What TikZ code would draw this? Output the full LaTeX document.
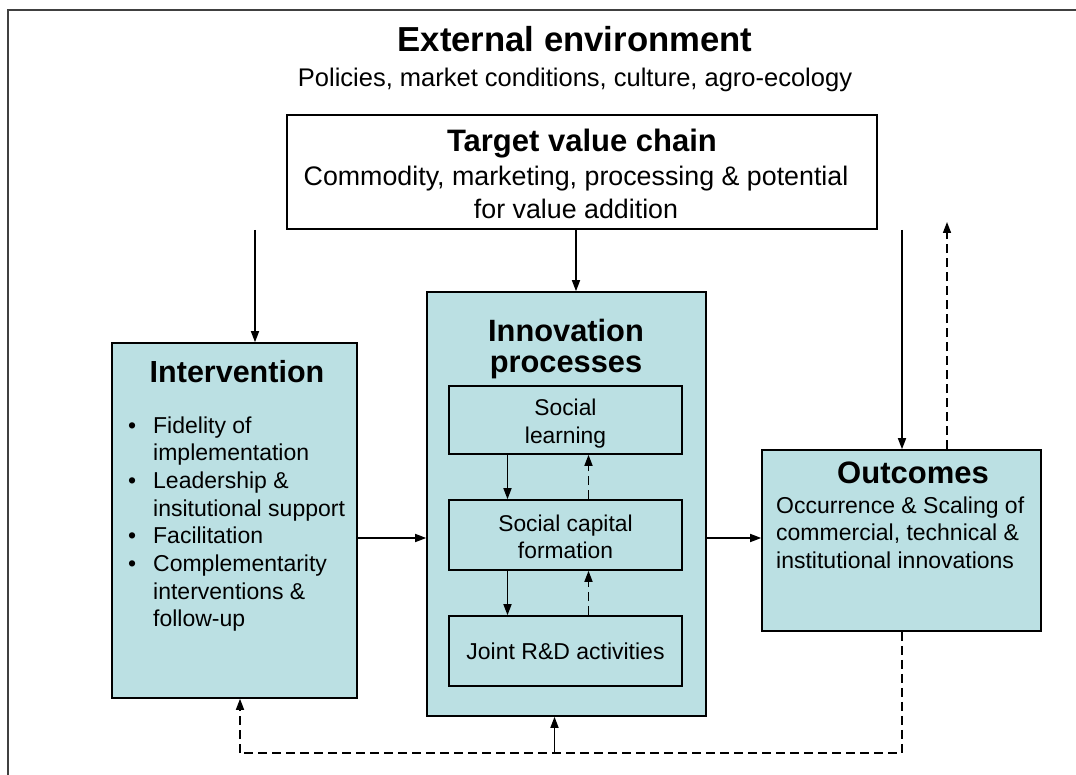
\documentclass[tikz,border=0pt]{standalone}
\usepackage{fontspec}
\setmainfont{Liberation Sans}
\usetikzlibrary{arrows.meta}
\definecolor{boxfill}{RGB}{187,224,227}
\newcommand{\fsz}[2]{\fontsize{#1}{#2}\selectfont}
\tikzset{
  box/.style={draw=black, line width=1.6pt, fill=boxfill, inner sep=0pt},
  wbox/.style={box, fill=white},
  txt/.style={inner sep=0pt, anchor=base},
  arr/.style={line width=1.6pt, -{Triangle[length=11pt,width=8pt]}},
  darr/.style={arr, dash pattern=on 9pt off 5pt},
  dline/.style={line width=2pt, dash pattern=on 9pt off 5pt},
}
\begin{document}
\begin{tikzpicture}[x=1pt,y=1pt,yscale=-1,xscale=1]
	\useasboundingbox (0,0) rectangle (1076,775);
	% outer frame
	\draw [line width=1.6pt, draw=black!75] (8,790) -- (8,10) -- (1090,10) ;
	\node [txt, font=\bfseries\fsz{34.7}{40}] (ext) at (575,52) {External environment};
	\node [txt, font=\fsz{25.5}{30}] (extsub) at (575,87) {Policies, market conditions, culture, agro-ecology};
	% boxes
	\node [wbox, minimum width=590, minimum height=114] (tvc) at (582,172) {};
	\node [box, minimum width=245, minimum height=355] (intv) at (234.5,520.5) {};
	\node [box, minimum width=279, minimum height=424] (inno) at (566.5,504) {};
	\node [box, minimum width=233, minimum height=68] (soc) at (565.5,420) {};
	\node [box, minimum width=233, minimum height=70] (cap) at (565.5,535) {};
	\node [box, minimum width=233, minimum height=70] (rd) at (565.5,651) {};
	\node [box, minimum width=279, minimum height=181] (outc) at (901.5,540.5) {};
	% texts
	\node [txt, font=\bfseries\fsz{31}{34}] (tvct) at (582,152) {Target value chain};
	\node [txt, font=\fsz{26.8}{33}] (tvcb) at (576,186) {\begin{tabular}[t]{@{}c@{}}Commodity, marketing, processing \& potential\\ for value addition\end{tabular}};
	\node [txt, font=\bfseries\fsz{30.5}{34}] (intvt) at (237,383) {Intervention};
	\node [txt, anchor=base west, font=\fsz{23}{27.7}] (intvb) at (128,433) {\begin{tabular}[t]{@{}p{25pt}@{}l@{}}
		\textbullet & Fidelity of\\ & implementation\\
		\textbullet & Leadership \&\\ & insitutional support\\
		\textbullet & Facilitation\\
		\textbullet & Complementarity\\ & interventions \&\\ & follow-up\end{tabular}};
	\node [txt, font=\bfseries\fsz{30.8}{31}] (innot) at (566,342) {\begin{tabular}[t]{@{}c@{}}Innovation\\ processes\end{tabular}};
	\node [txt, font=\fsz{22.8}{28}] (soct) at (565.5,415) {\begin{tabular}[t]{@{}c@{}}Social\\ learning\end{tabular}};
	\node [txt, font=\fsz{22.8}{27.5}] (capt) at (565.5,531) {\begin{tabular}[t]{@{}c@{}}Social capital\\ formation\end{tabular}};
	\node [txt, font=\fsz{23}{27.5}] (rdt) at (565.5,659) {Joint R\&D activities};
	\node [txt, font=\bfseries\fsz{31}{34}] (outct) at (913,483) {Outcomes};
	\node [txt, anchor=base west, font=\fsz{23}{27.7}] (outcb) at (776,513) {\begin{tabular}[t]{@{}l@{}}Occurrence \& Scaling of\\ commercial, technical \&\\ institutional innovations\end{tabular}};
	% connectors
	\coordinate (e1) at (255,230);
	\coordinate (e2) at (902,230);
	\coordinate (e3) at (947,222);
	\coordinate (b1) at (240,753);
	\draw [arr] (e1) -- (e1 |- intv.north) ;
	\draw [arr] ([xshift=-6]tvc.south) -- ([xshift=-6]tvc.south |- inno.north) ;
	\draw [arr] (e2) -- (e2 |- outc.north) ;
	\draw [darr] (e3 |- outc.north) -- (e3) ;
	\draw [arr] ([yshift=3]intv.east |- cap.center) -- ([yshift=3]inno.west |- cap.center) ;
	\draw [arr] ([yshift=3]inno.east |- cap.center) -- ([yshift=3]outc.west |- cap.center) ;
	\draw [arr] ([xshift=-58]soc.south) -- ([xshift=-58]cap.north) ;
	\draw [darr] ([xshift=23]cap.north) -- ([xshift=23]soc.south) ;
	\draw [arr] ([xshift=-58]cap.south) -- ([xshift=-58]rd.north) ;
	\draw [darr] ([xshift=23]rd.north) -- ([xshift=23]cap.south) ;
	% feedback loop
	\draw [dline] (outc.south) -- (outc.south |- b1) -- (b1) ;
	\draw [darr] (b1) -- (b1 |- intv.south) ;
	\draw [arr] ([xshift=-12]inno.south |- b1) -- ([xshift=-12]inno.south) ;
\end{tikzpicture}
\end{document}
